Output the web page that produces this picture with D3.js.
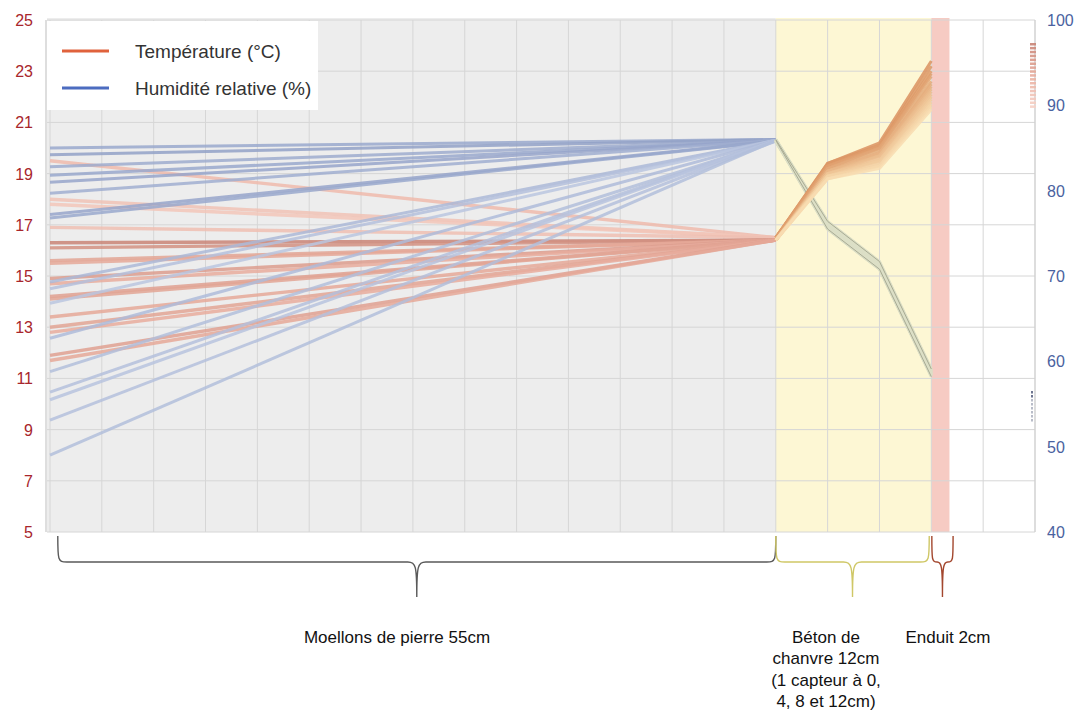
<!DOCTYPE html>
<html><head><meta charset="utf-8">
<script src="https://cdn.jsdelivr.net/npm/d3@7"></script>
<style>body{margin:0;background:#fff}svg{display:block}</style>
</head><body>
<svg id="c" width="1080" height="713"></svg>
<script>
// ---------- data ----------
const tempTicks = [5,7,9,11,13,15,17,19,21,23,25];
const humTicks = [40,50,60,70,80,90,100];
// temperature at wall interior start (index 0) for each sensor series
const tempStart = [19.5,18.0,17.8,16.9,16.3,16.1,15.6,15.5,14.9,14.7,14.2,14.1,13.4,13.0,12.8,11.9,11.7];
// temperature at hemp concrete sensors 0,4,8,12cm (indices 14..17)
const tempBeton = [
 [16.5,19.4,20.2,23.4],[16.5,19.4,20.1,23.2],[16.5,19.3,20.1,23.0],[16.5,19.3,20.0,22.9],
 [16.4,19.2,20.0,22.8],[16.4,19.2,19.9,22.6],[16.4,19.1,19.8,22.5],[16.4,19.1,19.8,22.4],
 [16.4,19.1,19.7,22.3],[16.4,19.0,19.7,22.2],[16.4,19.0,19.6,22.1],[16.4,19.0,19.5,22.0],
 [16.4,18.9,19.5,21.9],[16.4,18.9,19.4,21.8],[16.4,18.9,19.3,21.7],[16.4,18.8,19.3,21.6],[16.4,18.8,19.2,21.5]
];
const humStart = [85.0,84.2,82.8,81.8,81.0,79.7,77.2,76.8,69.3,68.5,66.8,62.7,58.8,56.4,55.5,53.1,49.0];
const humBeton = [
 [86.0,76.4,71.7,59.1],[86.0,76.3,71.6,59.0],[85.9,76.2,71.5,58.9],[85.9,76.1,71.4,58.9],
 [85.9,76.0,71.4,58.8],[85.9,76.0,71.3,58.8],[85.8,75.9,71.3,58.7],[85.8,75.9,71.2,58.7],
 [85.9,75.9,71.2,58.6],[85.9,75.8,71.1,58.6],[85.9,75.8,71.1,58.5],[85.9,75.7,71.0,58.5],
 [85.8,75.7,71.0,58.4],[85.9,75.6,70.9,58.4],[85.9,75.6,70.9,58.3],[85.8,75.5,70.8,58.3],[85.9,75.5,70.8,58.2]
];
const layers = [
 {name:["Moellons de pierre 55cm"], from:0, to:14, brFrom:0.15, brTo:14},
 {name:["Béton de","chanvre 12cm","(1 capteur à 0,","4, 8 et 12cm)"], from:14, to:17, brFrom:14, brTo:16.96},
 {name:["Enduit 2cm"], from:17, to:17.35, brFrom:17.01, brTo:17.42}
];
const legendItems = [{label:"Température (°C)", kind:"t"},{label:"Humidité relative (%)", kind:"h"}];

// ---------- scales ----------
const svg = d3.select("#c");
const x = d3.scaleLinear().domain([0,19]).range([50,1035]);
const yT = d3.scaleLinear().domain([5,25]).range([532,20]);
const yH = d3.scaleLinear().domain([40,100]).range([532,20]);
const pL = 47, pR = 1035, pT = 20, pB = 532;
const FONT = "Liberation Sans, Arial, sans-serif";

// backgrounds
const layerFill = ["#ededed","#fdf7d4","#f6cbc3"];
const labelX = [397, 826, 948];
const braceCol = ["#5a5a5a","#cfc766","#a3472e"];
svg.selectAll("rect.bg").data(layers).enter().append("rect")
  .attr("x",(d,i)=> i===0 ? pL : x(d.from))
  .attr("y",18).attr("width",(d,i)=>x(d.to)-(i===0?pL:x(d.from))).attr("height",pB-18)
  .attr("fill",(d,i)=>layerFill[i]);

// gridlines
svg.append("g").selectAll("line").data(tempTicks).enter().append("line")
  .attr("x1",pL).attr("x2",pR).attr("y1",d=>yT(d)).attr("y2",d=>yT(d))
  .attr("stroke","#d6d6d6").attr("stroke-width",1);
svg.append("g").selectAll("line").data(d3.range(0,20)).enter().append("line")
  .attr("x1",d=>x(d)).attr("x2",d=>x(d)).attr("y1",pT).attr("y2",pB)
  .attr("stroke","#d6d6d6").attr("stroke-width",1);
// axis lines
svg.append("line").attr("x1",46).attr("x2",46).attr("y1",pT).attr("y2",pB).attr("stroke","#bdbdbd");
svg.append("line").attr("x1",pR).attr("x2",pR).attr("y1",pT).attr("y2",pB).attr("stroke","#cfcfcf");

// line generators
const lineT = d3.line().x(d=>x(d[0])).y(d=>yT(d[1]));
const lineH = d3.line().x(d=>x(d[0])).y(d=>yH(d[1]));
const tStoneCol = d3.scaleLinear().domain([0,0.5,1]).range(["#c98476","#e8ac9c","#f6d0c5"]);
const hStoneCol = d3.scaleLinear().domain([0,0.5,1]).range(["#8b9bc3","#aebbd9","#cbd4e8"]);
const tBetonCol = d3.scaleLinear().domain([0,1]).range(["#da9260","#f8dcb0"]);
const pat = i => [0.7,0.8,0.85,0.75,0.0,0.15,0.4,0.45,0.3,0.5,0.35,0.4,0.45,0.4,0.5,0.35,0.45][i%17];
const patH = i => [0.2,0.1,0.25,0.2,0.15,0.3,0.15,0.2,0.45,0.6,0.7,0.5,0.55,0.6,0.65,0.6,0.55][i%17];

// temperature, stone segments
svg.append("g").selectAll("path").data(tempStart).enter().append("path")
  .attr("d",(d,i)=>lineT([[0,d],[14,tempBeton[i][0]]]))
  .attr("fill","none").attr("stroke",(d,i)=>tStoneCol(pat(i))).attr("stroke-width",3.4).attr("opacity",0.85);
// humidity, stone segments
svg.append("g").selectAll("path").data(humStart).enter().append("path")
  .attr("d",(d,i)=>lineH([[0,d],[14,humBeton[i][0]]]))
  .attr("fill","none").attr("stroke",(d,i)=>hStoneCol(patH(i))).attr("stroke-width",3).attr("opacity",0.85);
// humidity, beton segments (pale band with darker edges)
svg.append("g").selectAll("path").data(humBeton).enter().append("path")
  .attr("d",d=>lineH(d.map((v,k)=>[14+k,v])))
  .attr("fill","none").attr("stroke","#dcdfc6").attr("stroke-width",3);
svg.append("g").selectAll("path").data([humBeton[0],humBeton[humBeton.length-1]]).enter().append("path")
  .attr("d",d=>lineH(d.map((v,k)=>[14+k,v])))
  .attr("fill","none").attr("stroke","#a9ab93").attr("stroke-width",1);
// temperature, beton segments
svg.append("g").selectAll("path").data(tempBeton).enter().append("path")
  .attr("d",d=>lineT(d.map((v,k)=>[14+k,v])))
  .attr("fill","none").attr("stroke",(d,i)=>tBetonCol(i/(tempBeton.length-1))).attr("stroke-width",3).attr("opacity",0.85);

// remnant series marks at right
svg.append("g").selectAll("rect").data(tempStart).enter().append("rect")
  .attr("x",1030).attr("y",(d,i)=>43+i*3.9).attr("width",6).attr("height",2.5)
  .attr("fill",(d,i)=>tStoneCol(i/16)).attr("opacity",0.9);
svg.append("g").selectAll("rect").data(humStart.slice(0,8)).enter().append("rect")
  .attr("x",1031).attr("y",(d,i)=>391+i*4).attr("width",2).attr("height",2.5)
  .attr("fill",(d,i)=>i<2?"#6d7590":"#b8bcc8");

// legend
svg.append("rect").attr("x",47).attr("y",21).attr("width",271).attr("height",89).attr("fill","#fff");
const lg = svg.append("g").selectAll("g").data(legendItems).enter().append("g")
  .attr("transform",(d,i)=>`translate(0,${51+i*37})`);
lg.append("line").attr("x1",62).attr("x2",109).attr("y1",0).attr("y2",0)
  .attr("stroke",d=>d.kind==="t"?"#e0623c":"#4c6cc0").attr("stroke-width",3);
lg.append("text").attr("x",135).attr("y",7).text(d=>d.label)
  .attr("font-family",FONT).attr("font-size",19).attr("fill","#333");

// axes labels
svg.append("g").selectAll("text").data(tempTicks).enter().append("text")
  .attr("x",33).attr("y",d=>yT(d)+6).attr("text-anchor","end").text(d=>d)
  .attr("font-family",FONT).attr("font-size",16).attr("fill","#a8262c");
svg.append("g").selectAll("text").data(humTicks).enter().append("text")
  .attr("x",1047).attr("y",d=>yH(d)+6).attr("text-anchor","start").text(d=>d)
  .attr("font-family",FONT).attr("font-size",16).attr("fill","#4a62a0");

// braces
function brace(x0,x1){
  const xm=(x0+x1)/2, yt=536, yh=562, yb=597, r=Math.min(9,(x1-x0)/4);
  return `M${x0},${yt} C${x0},${yh-2} ${x0},${yh} ${x0+r},${yh} L${xm-r},${yh} C${xm-1},${yh} ${xm},${yh+4} ${xm},${yb}`+
         ` M${xm},${yb} C${xm},${yh+4} ${xm+1},${yh} ${xm+r},${yh} L${x1-r},${yh} C${x1},${yh} ${x1},${yh-2} ${x1},${yt}`;
}
svg.append("g").selectAll("path").data(layers).enter().append("path")
  .attr("d",d=>brace(x(d.brFrom),x(d.brTo))).attr("fill","none")
  .attr("stroke",(d,i)=>braceCol[i]).attr("stroke-width",1.4);

// layer labels
const lab = svg.append("g").selectAll("text").data(layers).enter().append("text")
  .attr("x",(d,i)=>labelX[i]).attr("y",643).attr("text-anchor","middle")
  .attr("font-family",FONT).attr("font-size",17).attr("fill","#111");
lab.selectAll("tspan").data(d=>d.name).enter().append("tspan")
  .attr("x",function(){return d3.select(this.parentNode).attr("x");})
  .attr("dy",(d,i)=>i===0?0:21.3).text(d=>d);
</script>
</body></html>
